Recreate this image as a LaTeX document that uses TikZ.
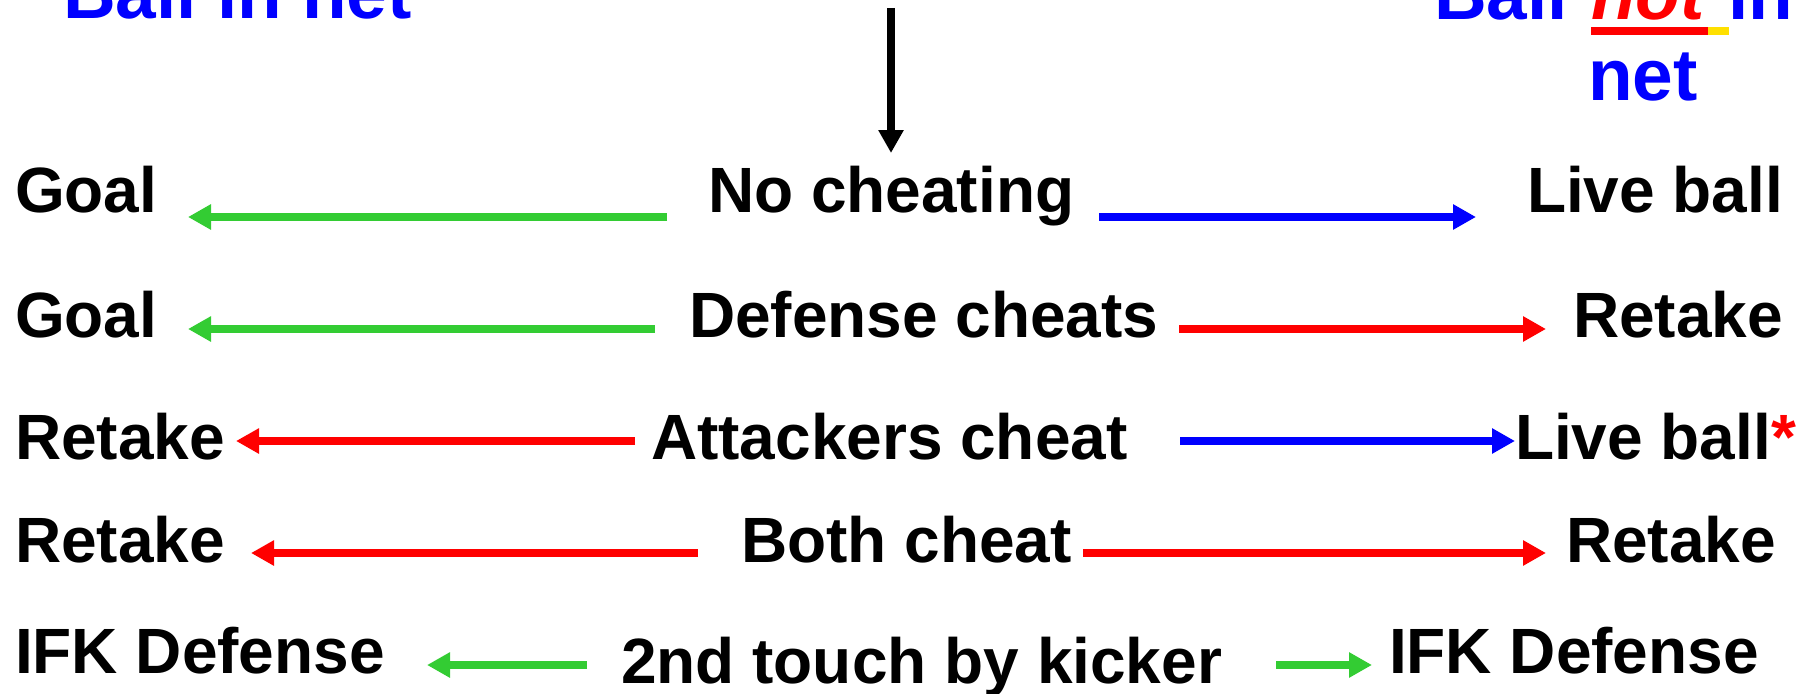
\documentclass[tikz,border=0pt]{standalone}
\usepackage{fontspec}
\setmainfont{Liberation Sans}
\usetikzlibrary{arrows.meta}
\definecolor{ggreen}{RGB}{51,204,51}
\definecolor{uyellow}{RGB}{255,224,0}
\begin{document}
\begin{tikzpicture}[x=1pt,y=-1pt,
  lbl/.style={inner sep=0pt, outer sep=0pt, anchor=base west, font=\fontsize{64}{77}\selectfont\bfseries},
  hdr/.style={inner sep=0pt, outer sep=0pt, anchor=base west, text=blue, font=\fontsize{73}{88}\selectfont\bfseries},
  arr/.style={line width=8pt, -{Triangle[length=23pt,width=24pt]}},
  ]
\useasboundingbox (0,0) rectangle (1811,693);
% headers
\node[hdr] (bin) at (63,19) {Ball in net};
\node[hdr] (bnb) at (1434,20) {Ball};
\node[hdr, text=red, font=\fontsize{73}{88}\selectfont\bfseries\itshape] (bnn) at (1591,20) {not};
\node[hdr] (bni) at (1728,20) {in};
\node[hdr] (bnt) at (1588,100) {net};
\fill[red] ([yshift=-7pt]bnn.base west) rectangle ([xshift=3pt,yshift=-15pt]bnn.base east);
\fill[uyellow] ([xshift=3pt,yshift=-7pt]bnn.base east) rectangle ([xshift=24pt,yshift=-15pt]bnn.base east);
% down arrow
\coordinate (dtop) at (891,8);
\coordinate (dbot) at (891,153);
\draw[arr, black] (dtop) -- (dbot);
% row 1
\node[lbl] (g1) at (15,212) {Goal};
\node[lbl] (c1) at (708,212) {No cheating};
\node[lbl] (r1) at (1527,212) {Live ball};
% row 2
\node[lbl] (g2) at (15,337) {Goal};
\node[lbl] (c2) at (689,337) {Defense cheats};
\node[lbl] (r2) at (1573,337) {Retake};
% row 3
\node[lbl] (g3) at (15,459) {Retake};
\node[lbl] (c3) at (651,459) {Attackers cheat};
\node[lbl] (r3) at (1515,459) {Live ball\textcolor{red}{*}};
% row 4
\node[lbl] (g4) at (15,562) {Retake};
\node[lbl] (c4) at (741,562) {Both cheat};
\node[lbl] (r4) at (1566,562) {Retake};
% row 5
\node[lbl] (g5) at (15,673) {IFK Defense};
\node[lbl] (c5) at (621,683) {2nd touch by kicker};
\node[lbl] (r5) at (1389,673) {IFK Defense};
% arrow end points
\coordinate (a1l) at (667,217); \coordinate (a1lt) at (188,217);
\coordinate (a1r) at (1099,217); \coordinate (a1rt) at (1476,217);
\coordinate (a2l) at (655,329); \coordinate (a2lt) at (188,329);
\coordinate (a2r) at (1179,329); \coordinate (a2rt) at (1546,329);
\coordinate (a3l) at (635,441); \coordinate (a3lt) at (236,441);
\coordinate (a3r) at (1180,441); \coordinate (a3rt) at (1515,441);
\coordinate (a4l) at (698,553); \coordinate (a4lt) at (251,553);
\coordinate (a4r) at (1083,553); \coordinate (a4rt) at (1546,553);
\coordinate (a5l) at (587,665); \coordinate (a5lt) at (427,665);
\coordinate (a5r) at (1276,665); \coordinate (a5rt) at (1372,665);
\draw[arr, ggreen] (a1l) -- (a1lt);
\draw[arr, blue] (a1r) -- (a1rt);
\draw[arr, ggreen] (a2l) -- (a2lt);
\draw[arr, red] (a2r) -- (a2rt);
\draw[arr, red] (a3l) -- (a3lt);
\draw[arr, blue] (a3r) -- (a3rt);
\draw[arr, red] (a4l) -- (a4lt);
\draw[arr, red] (a4r) -- (a4rt);
\draw[arr, ggreen] (a5l) -- (a5lt);
\draw[arr, ggreen] (a5r) -- (a5rt);
\end{tikzpicture}
\end{document}
